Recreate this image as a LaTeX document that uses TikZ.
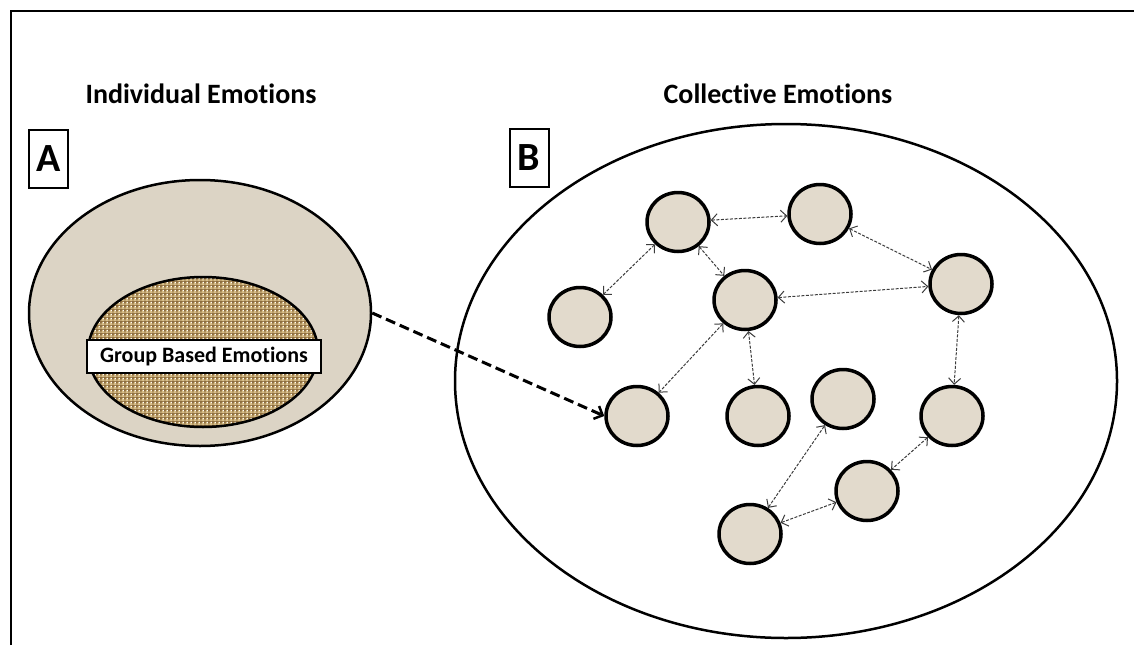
\documentclass[tikz,border=0pt]{standalone}
\usepackage{fontspec}
\setmainfont{Carlito}[Ligatures=NoCommon]
\usetikzlibrary{shapes.geometric,arrows.meta,patterns}

\definecolor{paper}{HTML}{DCD4C5}
\definecolor{bubble}{HTML}{E2DACC}
\definecolor{burlap}{HTML}{8E6E3E}
\definecolor{weave}{HTML}{D8BF8A}
\definecolor{linkgray}{HTML}{3C3C3C}

% coarse woven texture for the group-based emotions ellipse
\pgfdeclarepatterninherentlycolored{weavegrid}{\pgfpointorigin}{\pgfpoint{4pt}{4pt}}{\pgfpoint{4pt}{4pt}}{
  \pgfsetfillcolor{weave}
  \pgfpathrectangle{\pgfpoint{0pt}{0.6pt}}{\pgfpoint{4pt}{1.1pt}}
  \pgfusepath{fill}
  \pgfpathrectangle{\pgfpoint{2.4pt}{0pt}}{\pgfpoint{1.1pt}{4pt}}
  \pgfusepath{fill}
}

\tikzset{
  frameline/.style={line width=2pt, black},
  title/.style={font=\bfseries\fontsize{28}{32}\selectfont, inner sep=0pt},
  letterbox/.style={draw, line width=2pt, minimum width=39pt, minimum height=58pt,
    inner sep=0pt, font=\bfseries\fontsize{40}{42}\selectfont},
  bubblenode/.style={ellipse, draw, line width=3.5pt, fill=bubble,
    minimum width=62pt, minimum height=59pt, inner sep=0pt},
  link/.style={draw=linkgray, line width=1pt, dash pattern=on 3pt off 1.5pt,
    {Straight Barb[length=6pt,width=12pt]}-{Straight Barb[length=6pt,width=12pt]}},
  transfer/.style={line width=3pt, dash pattern=on 10pt off 5pt,
    -{Straight Barb[length=7pt,width=14pt,line width=2.5pt]}}
}

\begin{document}
\begin{tikzpicture}[x=1pt,y=-1pt]
  \useasboundingbox (0,0) rectangle (1134,645);

  % outer frame (open to the right and bottom)
  \draw[frameline] (11,645) -- (11,11) -- (1134,11);

  % headings
  \node[title] (ttlA) at (201,94) {Individual Emotions};
  \node[title] (ttlB) at (778,94) {Collective Emotions};

  % panel letters
  \node[letterbox] (boxA) at (48.5,159) {A};
  \node[letterbox] (boxB) at (529,158) {B};

  % panel A: individual emotions containing group based emotions
  \node[ellipse, draw, line width=2.5pt, fill=paper,
        minimum width=342pt, minimum height=266pt, inner sep=0pt] (indiv) at (200,313) {};
  \node[ellipse, draw, line width=2.5pt, preaction={fill=burlap},
        pattern=weavegrid,
        minimum width=230pt, minimum height=150pt, inner sep=0pt] (group) at (203,352) {};
  \node[draw, line width=2.5pt, fill=white, minimum width=234pt, minimum height=33pt,
        inner sep=0pt, font=\bfseries\fontsize{22}{24}\selectfont] (gbe) at (204,356.5)
        {Group Based Emotions};

  % panel B: collective emotions
  \node[ellipse, draw, line width=2.5pt,
        minimum width=662pt, minimum height=514pt, inner sep=0pt] (coll) at (786,381) {};

  \node[bubblenode] (c1)  at (678,222) {};
  \node[bubblenode] (c2)  at (820,214) {};
  \node[bubblenode] (c3)  at (745,300) {};
  \node[bubblenode] (c4)  at (580,317) {};
  \node[bubblenode] (c5)  at (961,284) {};
  \node[bubblenode] (c6)  at (637,416) {};
  \node[bubblenode] (c7)  at (758,416) {};
  \node[bubblenode] (c8)  at (843,399) {};
  \node[bubblenode] (c9)  at (952,416) {};
  \node[bubblenode] (c10) at (867,491) {};
  \node[bubblenode] (c11) at (750,534) {};

  \draw[link] (c1) -- (c2);
  \draw[link] (c1) -- (c4);
  \draw[link] (c1) -- (c3);
  \draw[link] (c2) -- (c5);
  \draw[link] (c3) -- (c5);
  \draw[link] (c3) -- (c6);
  \draw[link] (c3) -- (c7);
  \draw[link] (c5) -- (c9);
  \draw[link] (c9) -- (c10);
  \draw[link] (c10) -- (c11);
  \draw[link] (c11) -- (c8);

  % transfer from the individual to the collective level
  \draw[transfer] (indiv.east) -- (c6.west);
\end{tikzpicture}
\end{document}
